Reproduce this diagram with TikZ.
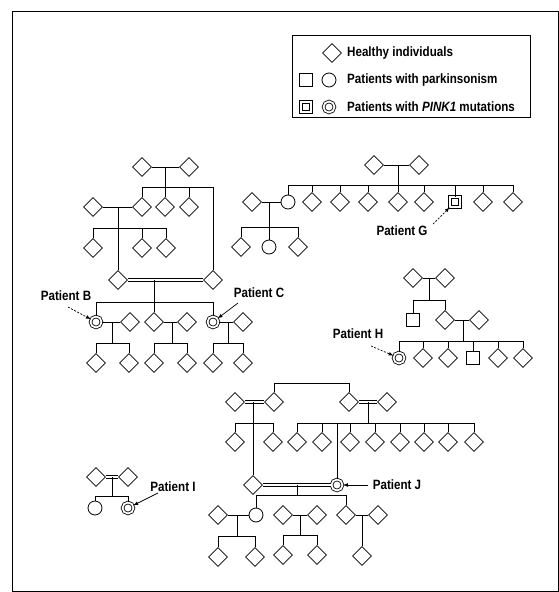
\documentclass[tikz,border=0pt]{standalone}
\usepackage{fontspec}
\setmainfont{Liberation Sans}[FakeStretch=0.86]
\usetikzlibrary{shapes.geometric}

\tikzset{
  healthy/.style={draw, diamond, aspect=1, minimum size=19pt, inner sep=0pt, line width=.7pt},
  parkcirc/.style={draw, circle, minimum size=14pt, inner sep=0pt, line width=.8pt},
  parksq/.style={draw, rectangle, minimum size=13pt, inner sep=0pt, line width=.8pt},
  pinkcirc/.style={parkcirc, double, double distance=1.8pt, minimum size=11pt},
  pinksq/.style={parksq, double, double distance=2pt, minimum size=10pt},
  tag/.style={font=\fontsize{13.5}{15}\selectfont\bfseries, inner sep=1pt},
  ptr/.style={-latex, line width=.7pt},
  link/.style={line width=.8pt},
  kin/.style={double, double distance=2pt, line width=.6pt},
}

\begin{document}
\begin{tikzpicture}[x=1pt,y=-1pt]
\useasboundingbox (0,0) rectangle (559,592);
\draw[line width=1pt] (12,11) rectangle (558,591);

% legend
\draw[line width=.8pt] (292,35) rectangle (530,117);
\node[healthy] (lh) at (332,53) {};
\node[parksq] (lps) at (306,80) {};
\node[parkcirc] (lpc) at (329,80) {};
\node[pinksq] (lks) at (306,107) {};
\node[pinkcirc] (lkc) at (329,107) {};
\node[tag, anchor=west] (lt1) at (346,53) {Healthy individuals};
\node[tag, anchor=west] (lt2) at (346,80) {Patients with parkinsonism};
\node[tag, anchor=west] (lt3) at (346,107) {Patients with \textit{PINK1} mutations};

% family of patients B and C
\node[healthy] (a1) at (142,167) {};
\node[healthy] (a2) at (189,167) {};
\node[healthy] (a7) at (93,207) {};
\node[healthy] (a3) at (142,207) {};
\node[healthy] (a4) at (165,207) {};
\node[healthy] (a5) at (189,207) {};
\node[healthy] (a8) at (93,248) {};
\node[healthy] (a10) at (142,248) {};
\node[healthy] (a11) at (166,248) {};
\node[healthy] (a9) at (118,280) {};
\node[healthy] (a6) at (213,280) {};
\node[pinkcirc] (b) at (96,322) {};
\node[healthy] (a12) at (130,322) {};
\node[healthy] (a13) at (154,322) {};
\node[healthy] (a14) at (187,322) {};
\node[pinkcirc] (c) at (213,322) {};
\node[healthy] (a15) at (243,322) {};
\node[healthy] (a16) at (96,363) {};
\node[healthy] (a17) at (129,363) {};
\node[healthy] (a18) at (154,363) {};
\node[healthy] (a19) at (187,363) {};
\node[healthy] (a20) at (213,363) {};
\node[healthy] (a21) at (243,363) {};
\coordinate (ma) at (165,167); \coordinate (sa) at (165,187);
\coordinate (mb) at (118,207); \coordinate (sb) at (118,228);
\coordinate (mc) at (154,280); \coordinate (sc) at (154,302);
\coordinate (md) at (112,322); \coordinate (sd) at (112,343);
\coordinate (me) at (172,322); \coordinate (se) at (172,343);
\coordinate (mf) at (228,322); \coordinate (sf) at (228,343);
\draw[link] (a1) -- (a2);
\draw[link] (ma) -- (sa);
\draw[link] (a3 |- sa) -- (a6 |- sa);
\foreach \k in {a3,a4,a5,a6} \draw[link] (\k.north) -- (\k |- sa);
\draw[link] (a7) -- (a3);
\draw[link] (mb) -- (a9.north);
\draw[link] (a8 |- sb) -- (a11 |- sb);
\foreach \k in {a8,a10,a11} \draw[link] (\k.north) -- (\k |- sb);
\draw[kin] (a9) -- (a6);
\draw[link] (mc) -- (sc);
\draw[link] (b |- sc) -- (c |- sc);
\foreach \k in {b,a13,c} \draw[link] (\k.north) -- (\k |- sc);
\draw[link] (b) -- (a12);
\draw[link] (a13) -- (a14);
\draw[link] (c) -- (a15);
\draw[link] (md) -- (sd); \draw[link] (me) -- (se); \draw[link] (mf) -- (sf);
\draw[link] (a16 |- sd) -- (a17 |- sd);
\draw[link] (a18 |- se) -- (a19 |- se);
\draw[link] (a20 |- sf) -- (a21 |- sf);
\foreach \k/\s in {a16/sd,a17/sd,a18/se,a19/se,a20/sf,a21/sf}
  \draw[link] (\k.north) -- (\k |- \s);
\node[tag] (tb) at (66,296) {Patient B};
\node[tag] (tc) at (259,293) {Patient C};
\coordinate (pb) at (68,307);
\coordinate (pc) at (238,303);
\draw[ptr, dash pattern=on 2pt off 1.5pt] (pb) -- (b);
\draw[ptr] (pc) -- (c);

% family of patient G
\node[healthy] (g1) at (374,165) {};
\node[healthy] (g2) at (419,165) {};
\node[parkcirc] (gc1) at (288,202) {};
\node[healthy] (g3) at (312,202) {};
\node[healthy] (g4) at (340,202) {};
\node[healthy] (g5) at (368,202) {};
\node[healthy] (g6) at (398,202) {};
\node[healthy] (g7) at (424,202) {};
\node[pinksq] (pg) at (455,202) {};
\node[healthy] (g8) at (483,202) {};
\node[healthy] (g9) at (513,202) {};
\node[healthy] (g10) at (252,202) {};
\node[healthy] (g11) at (241,247) {};
\node[parkcirc] (gc2) at (269,247) {};
\node[healthy] (g12) at (298,247) {};
\coordinate (mg) at (398,165); \coordinate (sg) at (398,185);
\coordinate (mh) at (269,202); \coordinate (sh) at (269,227);
\draw[link] (g1) -- (g2);
\draw[link] (mg) -- (sg);
\draw[link] (gc1 |- sg) -- (g9 |- sg);
\foreach \k in {gc1,g3,g4,g5,g6,g7,pg,g8,g9} \draw[link] (\k.north) -- (\k |- sg);
\draw[link] (g10) -- (gc1);
\draw[link] (mh) -- (sh);
\draw[link] (g11 |- sh) -- (g12 |- sh);
\foreach \k in {g11,gc2,g12} \draw[link] (\k.north) -- (\k |- sh);
\node[tag] (tg) at (402,231) {Patient G};
\coordinate (pgs) at (433,224);
\draw[ptr, dash pattern=on 2pt off 1.5pt] (pgs) -- (pg);

% family of patient H
\node[healthy] (h1) at (413,278) {};
\node[healthy] (h2) at (445,278) {};
\node[parksq] (hs) at (413,320) {};
\node[healthy] (h3) at (445,320) {};
\node[healthy] (h4) at (479,320) {};
\node[pinkcirc] (ph) at (399,358) {};
\node[healthy] (h5) at (423,358) {};
\node[healthy] (h6) at (448,358) {};
\node[parksq] (hs2) at (473,358) {};
\node[healthy] (h7) at (498,358) {};
\node[healthy] (h8) at (523,358) {};
\coordinate (mi) at (429,278); \coordinate (si) at (429,300);
\coordinate (mk) at (463,320); \coordinate (sk) at (463,341);
\draw[link] (h1) -- (h2);
\draw[link] (mi) -- (si);
\draw[link] (hs |- si) -- (h3 |- si);
\foreach \k in {hs,h3} \draw[link] (\k.north) -- (\k |- si);
\draw[link] (h3) -- (h4);
\draw[link] (mk) -- (sk);
\draw[link] (ph |- sk) -- (h8 |- sk);
\foreach \k in {ph,h5,h6,hs2,h7,h8} \draw[link] (\k.north) -- (\k |- sk);
\node[tag] (th) at (358,334) {Patient H};
\coordinate (phs) at (371,346);
\draw[ptr, dash pattern=on 2pt off 1.5pt] (phs) -- (ph);

% family of patient I
\node[healthy] (i1) at (96,477) {};
\node[healthy] (i2) at (128,477) {};
\node[parkcirc] (ic) at (95,508) {};
\node[pinkcirc] (pi) at (128,508) {};
\coordinate (mn) at (112,477); \coordinate (sn) at (112,496);
\draw[kin] (i1) -- (i2);
\draw[link] (mn) -- (sn);
\draw[link] (ic |- sn) -- (pi |- sn);
\foreach \k in {ic,pi} \draw[link] (\k.north) -- (\k |- sn);
\node[tag] (ti) at (173,487) {Patient I};
\coordinate (pis) at (158,493);
\draw[ptr] (pis) -- (pi);

% family of patient J
\node[healthy] (j1) at (235,402) {};
\node[healthy] (j2) at (274,402) {};
\node[healthy] (j3) at (349,402) {};
\node[healthy] (j7) at (387,402) {};
\node[healthy] (j4) at (235,442) {};
\node[healthy] (j5) at (273,442) {};
\node[healthy] (j8) at (297,442) {};
\node[healthy] (j9) at (322,442) {};
\node[healthy] (j10) at (350,442) {};
\node[healthy] (j11) at (375,442) {};
\node[healthy] (j12) at (400,442) {};
\node[healthy] (j13) at (424,442) {};
\node[healthy] (j14) at (448,442) {};
\node[healthy] (j15) at (474,442) {};
\node[healthy] (j6) at (253,485) {};
\node[pinkcirc] (pj) at (337,485) {};
\node[healthy] (j16) at (218,515) {};
\node[parkcirc] (jc) at (256,515) {};
\node[healthy] (j21) at (283,515) {};
\node[healthy] (j22) at (317,515) {};
\node[healthy] (j20) at (346,515) {};
\node[healthy] (j25) at (378,515) {};
\node[healthy] (j17) at (218,557) {};
\node[healthy] (j18) at (255,557) {};
\node[healthy] (j23) at (283,555) {};
\node[healthy] (j24) at (317,555) {};
\node[healthy] (j26) at (362,556) {};
\coordinate (tj) at (273,383);
\coordinate (mj) at (253,402); \coordinate (sj) at (253,423);
\coordinate (mo) at (368,402); \coordinate (so) at (368,423);
\coordinate (mq) at (297,485); \coordinate (sq) at (297,495);
\coordinate (mr) at (237,515); \coordinate (sr) at (237,536);
\coordinate (ms) at (300,515); \coordinate (ss) at (300,535);
\coordinate (mt) at (362,515);
\draw[link] (j2.north) -- (j2 |- tj) -- (j3 |- tj) -- (j3.north);
\draw[kin] (j1) -- (j2);
\draw[kin] (j3) -- (j7);
\draw[link] (mj) -- (j6.north);
\draw[link] (j4 |- sj) -- (j5 |- sj);
\foreach \k in {j4,j5} \draw[link] (\k.north) -- (\k |- sj);
\draw[link] (mo) -- (so);
\draw[link] (j8 |- so) -- (j15 |- so);
\foreach \k in {j8,j9,j10,j11,j12,j13,j14,j15} \draw[link] (\k.north) -- (\k |- so);
\draw[link] (pj |- so) -- (pj.north);
\draw[kin] (j6) -- (pj);
\draw[link] (mq) -- (sq);
\draw[link] (jc |- sq) -- (j20 |- sq);
\foreach \k in {jc,j20} \draw[link] (\k.north) -- (\k |- sq);
\draw[link] (j16) -- (jc);
\draw[link] (mr) -- (sr);
\draw[link] (j17 |- sr) -- (j18 |- sr);
\foreach \k in {j17,j18} \draw[link] (\k.north) -- (\k |- sr);
\draw[link] (j21) -- (j22);
\draw[link] (ms) -- (ss);
\draw[link] (j23 |- ss) -- (j24 |- ss);
\foreach \k in {j23,j24} \draw[link] (\k.north) -- (\k |- ss);
\draw[link] (j20) -- (j25);
\draw[link] (mt) -- (j26.north);
\node[tag] (tj2) at (397,485) {Patient J};
\coordinate (pjs) at (368,485);
\draw[ptr] (pjs) -- (pj);
\end{tikzpicture}
\end{document}
